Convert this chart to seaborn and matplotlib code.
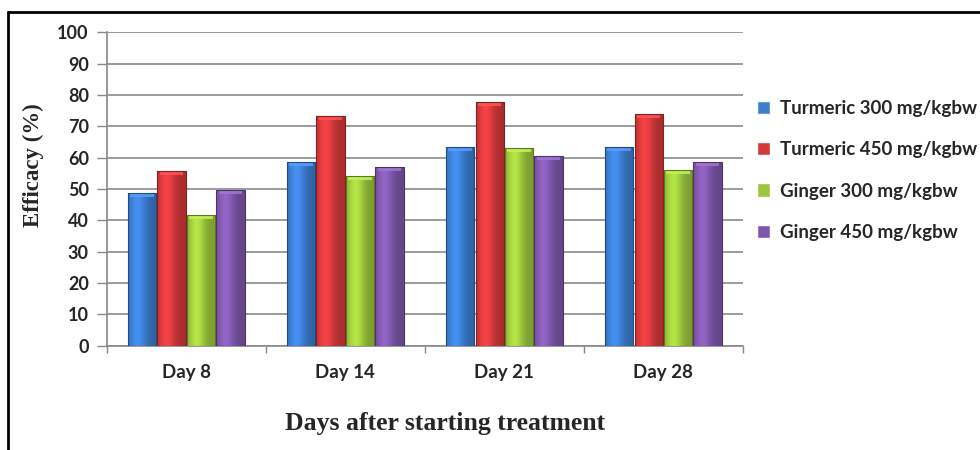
import numpy as np
import pandas as pd
import matplotlib
matplotlib.use("Agg")
import matplotlib.pyplot as plt
import matplotlib.colors as mcolors
from matplotlib.lines import Line2D
import seaborn as sns

# Efficacy of treatment over time
days = ["Day 8", "Day 14", "Day 21", "Day 28"]
groups = ["Turmeric 300 mg/kgbw", "Turmeric 450 mg/kgbw",
          "Ginger 300 mg/kgbw", "Ginger 450 mg/kgbw"]
turmeric_300 = [48.7, 58.6, 63.5, 63.5]
turmeric_450 = [55.9, 73.4, 77.7, 74.1]
ginger_300 = [41.6, 54.1, 63.0, 56.2]
ginger_450 = [49.8, 56.9, 60.4, 58.7]
y_ticks = list(range(0, 101, 10))

colors = ["#3b7dd0", "#d4393a", "#9cc63c", "#7e57ab"]

df = pd.DataFrame({
    "Day": days * 4,
    "Group": [g for g in groups for _ in days],
    "Efficacy": turmeric_300 + turmeric_450 + ginger_300 + ginger_450,
})

sns.set_theme(style="white")
sans = ["Lato", "DejaVu Sans"]
serif = ["Liberation Serif", "DejaVu Serif"]

fig = plt.figure(figsize=(9.8, 4.5), dpi=100)
ax = fig.add_axes([0.109, 0.232, 0.649, 0.696])

sns.barplot(data=df, x="Day", y="Efficacy", hue="Group", order=days,
            hue_order=groups, palette=colors, width=0.74, gap=0.04,
            saturation=1, ax=ax, legend=True, zorder=3)

# glossy shading on each bar
t = np.linspace(0, 1, 64)
profile = 0.8 + 0.36 * np.exp(-((t - 0.33) / 0.3) ** 2)
bar_patches = [p for p in ax.patches if p.get_height() > 0]
for p in bar_patches:
    base = np.array(mcolors.to_rgb(p.get_facecolor()))
    img = np.clip(base[None, :] * profile[:, None], 0, 1)
    img = np.tile(img[None, :, :], (2, 1, 1))
    x0, w, h = p.get_x(), p.get_width(), p.get_height()
    im = ax.imshow(img, extent=[x0, x0 + w, 0, h], aspect="auto",
                   origin="lower", zorder=3.5, interpolation="bilinear")
    im.set_clip_path(p)
    # lighter bevel at the top of the bar
    cap = np.clip(base * 1.12 + 0.08, 0, 1)
    ax.fill_between([x0 + w * 0.08, x0 + w * 0.92], h - 1.3, h, color=cap,
                    zorder=3.6, linewidth=0, alpha=0.85)
    p.set_edgecolor(np.clip(base * 0.6, 0, 1))
    p.set_linewidth(0.8)
    p.set_zorder(3.7)
    p.set_facecolor("none")

ax.set_xlim(-0.5, 3.5)
ax.set_ylim(0, 100)
ax.set_yticks(y_ticks)
ax.set_yticklabels([str(v) for v in y_ticks], fontfamily=sans,
                   fontweight="bold", fontsize=13)
ax.set_xticks(range(len(days)))
ax.set_xticklabels(days, fontfamily=sans, fontweight="bold", fontsize=13.5)
ax.set_xticks(np.arange(-0.5, 4, 1), minor=True)
ax.tick_params(axis="x", which="major", length=0, pad=13)
ax.tick_params(axis="x", which="minor", length=5, width=1, color="#888888",
               direction="out", bottom=True)
ax.tick_params(axis="y", length=7, width=1, color="#888888",
               direction="out", left=True, pad=6)

ax.yaxis.grid(True, color="#8a8a8a", linewidth=1.2, zorder=0)
ax.set_axisbelow(True)
for side in ["top", "right"]:
    ax.spines[side].set_visible(False)
for side in ["left", "bottom"]:
    ax.spines[side].set_color("#888888")
    ax.spines[side].set_linewidth(1.2)

ax.set_xlabel("")
ax.set_ylabel("")
fig.text(0.034, 0.633, "Efficacy (%)", rotation=90, ha="center",
         va="center", fontfamily=serif, fontweight="bold", fontsize=16.5)
fig.text(0.454, 0.058, "Days after starting treatment", ha="center",
         va="center", fontfamily=serif, fontweight="bold", fontsize=18.5)

handles, labels = ax.get_legend_handles_labels()
ax.legend_.remove()
leg = fig.legend(handles, labels, loc="upper left",
                 bbox_to_anchor=(0.765, 0.795), frameon=False,
                 handlelength=0.7, handleheight=0.7, handletextpad=0.5,
                 labelspacing=1.3, borderaxespad=0,
                 prop={"family": sans, "weight": "bold", "size": 13.5})

# outer frame around the figure
fig.add_artist(Line2D([0.008, 1.0], [0.973, 0.973], color="black",
                      linewidth=2, transform=fig.transFigure))
fig.add_artist(Line2D([0.008, 0.008], [0.0, 0.973], color="black",
                      linewidth=2, transform=fig.transFigure))

fig.savefig("out.png", dpi=100)
